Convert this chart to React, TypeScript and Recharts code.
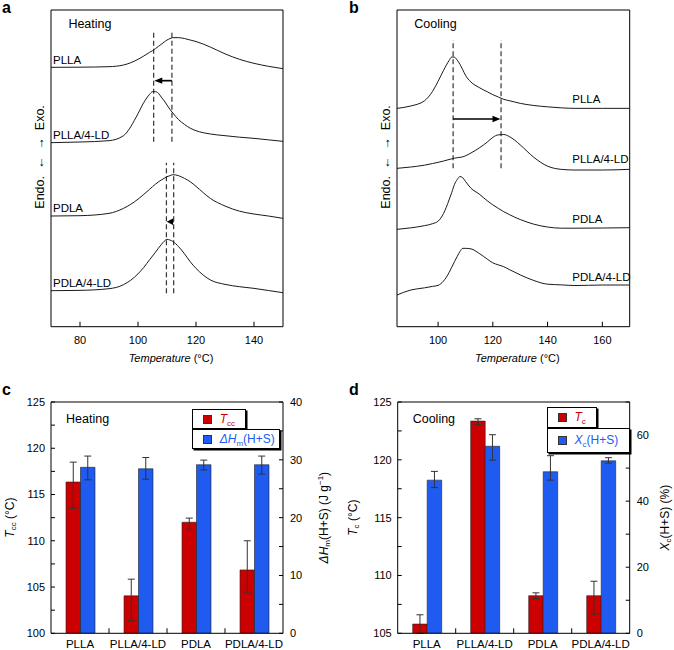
import React from 'react';
import {
  LineChart, Line, XAxis, YAxis, ReferenceLine, ReferenceDot,
  BarChart, Bar, ErrorBar, Legend,
} from 'recharts';

const FONT = '"Liberation Sans", Arial, Helvetica, sans-serif';
const RED = '#cc0000';
const BLUE = '#1f5bf0';
const INK = '#1a1a1a';

// ---- a: heating scans (heat flow in arbitrary units, traces offset) ----
const heatTemp = [70, 80, 90, 95, 100, 102, 104, 105, 106, 107, 108, 109, 110, 111, 112, 114, 116, 118, 120, 125, 130, 135, 140, 145, 150];
const heatPLLA = [77.8, 77.85, 78, 78.5, 80.2, 81.2, 82.3, 82.8, 83.4, 84.05, 84.7, 85.35, 86, 86.4, 86.7, 86.7, 86.45, 86.0, 85.55, 83.85, 81.85, 80.2, 79.0, 78.1, 77.4];
const heatPLLA4LD = [55.2, 55.4, 55.8, 57.3, 63.9, 67.25, 69.7, 70.5, 70.5, 70.05, 68.9, 67.8, 66.5, 65.2, 64.1, 62.1, 60.7, 59.55, 58.8, 57.8, 57.3, 56.85, 56.5, 56.05, 55.6];
const heatPDLA = [33.2, 33.3, 34.0, 35.5, 38.25, 39.7, 41.2, 42.0, 42.75, 43.4, 44.0, 44.5, 45.0, 45.3, 45.6, 45.3, 44.5, 43.5, 42.1, 38.45, 36.2, 34.65, 33.8, 33.2, 32.5];
const heatPDLA4LD = [10.8, 10.9, 11.4, 12.6, 15.85, 17.8, 20.1, 21.2, 22.3, 23.5, 24.6, 25.6, 26.2, 26.0, 25.6, 24.0, 21.9, 19.5, 17.5, 14.0, 12.7, 12.0, 11.5, 10.85, 10.2];

// ---- b: cooling scans ----
const coolTemp = [85, 90, 95, 98, 100, 102, 104, 105, 106, 107, 108, 109, 110, 112, 115, 118, 120, 122, 124, 126, 128, 130, 135, 140, 145, 150, 160, 170];
const coolPLLA = [65.5, 66.2, 67.75, 70.6, 73.6, 76.9, 79.8, 80.9, 80.85, 79.95, 78.7, 77.1, 75.45, 73.4, 71.75, 70.45, 69.6, 68.9, 68.2, 67.8, 67.4, 67.0, 66.35, 65.95, 65.65, 65.5, 65.5, 65.5];
const coolPLLA4LD = [47.5, 47.9, 48.45, 48.95, 49.3, 49.7, 50.15, 50.35, 50.55, 50.7, 50.8, 50.95, 51.25, 52.1, 53.6, 55.4, 56.8, 57.55, 57.65, 57.05, 55.95, 54.55, 50.8, 48.15, 47.2, 47, 47, 47.2];
const coolPDLA = [29.2, 29.65, 30.3, 30.9, 31.65, 33.95, 38, 40.25, 42.7, 44.15, 45.05, 44.7, 43.6, 41.55, 39.8, 37.75, 36.55, 35.5, 34.5, 33.65, 32.85, 32.15, 30.75, 29.9, 29.55, 29.55, 29.6, 29.7];
const coolPDLA4LD = [9.5, 11.0, 11.65, 12.1, 12.4, 13.7, 16.2, 17.85, 19.5, 21.1, 22.55, 23.5, 23.5, 23.35, 22.0, 20.25, 19.15, 18.55, 18.0, 17.15, 16.35, 15.55, 13.85, 12.75, 12.55, 12.35, 12.5, 12.5];

const traceNames = ['PLLA', 'PLLA/4-LD', 'PDLA', 'PDLA/4-LD'];

// peak markers (dashed) and shift arrows
const heatMarkers = [
  { t: 105.4, from: 55.5, to: 88.5 },
  { t: 111.7, from: 55.5, to: 88.5 },
  { t: 109.8, from: 10, to: 49.2 },
  { t: 112.3, from: 10, to: 49.2 },
];
const heatShifts = [
  { from: 111.7, to: 105.6, level: 73.8 },
  { from: 112.3, to: 109.9, level: 31.5 },
];
const coolMarkers = [
  { t: 105.5, from: 47.5, to: 86 },
  { t: 123, from: 47.5, to: 86 },
];
const coolShifts = [{ from: 105.5, to: 122.8, level: 62.3 }];

// curve labels (left edge temperature, level)
const heatLabelT = [70, 70, 70, 70];
const heatLabelY = [80, 57.5, 35.5, 13.2];
const coolLabelT = [148.3, 148.3, 148.3, 148.3];
const coolLabelY = [68.3, 50.2, 32.2, 15];

// ---- c / d: bar data ----
const samples = ['PLLA', 'PLLA/4-LD', 'PDLA', 'PDLA/4-LD'];
const tccHeat = [116.35, 104.05, 112.0, 106.85];
const tccHeatErr = [[2.85, 2.15], [2.7, 1.8], [0.75, 0.45], [2.4, 3.15]];
const dHmHeat = [28.7, 28.45, 29.15, 29.15];
const dHmHeatErr = [[2.15, 1.95], [1.8, 1.95], [0.9, 0.8], [1.6, 1.5]];
const tcCool = [105.8, 123.35, 108.25, 108.25];
const tcCoolErr = [[0.8, 0.8], [0.3, 0.2], [0.25, 0.25], [1.6, 1.25]];
const xcCool = [46.35, 56.6, 48.9, 52.2];
const xcCoolErr = [[2.25, 2.65], [4.2, 3.5], [2.55, 4.85], [0.7, 0.95]];

const heatRows = heatTemp.map((t, i) => ({
  t, PLLA: heatPLLA[i], 'PLLA/4-LD': heatPLLA4LD[i], PDLA: heatPDLA[i], 'PDLA/4-LD': heatPDLA4LD[i],
}));
const coolRows = coolTemp.map((t, i) => ({
  t, PLLA: coolPLLA[i], 'PLLA/4-LD': coolPLLA4LD[i], PDLA: coolPDLA[i], 'PDLA/4-LD': coolPDLA4LD[i],
}));
const heatBarRows = samples.map((name, i) => ({
  name, tcc: tccHeat[i], tccErr: tccHeatErr[i], dhm: dHmHeat[i], dhmErr: dHmHeatErr[i],
}));
const coolBarRows = samples.map((name, i) => ({
  name, tc: tcCool[i], tcErr: tcCoolErr[i], xc: xcCool[i], xcErr: xcCoolErr[i],
}));

const range = (a: number, b: number, step: number) => {
  const out: number[] = [];
  for (let v = a; v <= b + 1e-9; v += step) out.push(v);
  return out;
};

const tickStyle = { fontSize: 11, fill: '#000' };

// rotated axis title, placed relative to the axis box
const sideLabel = (dx: number, dy: number, body: React.ReactNode, size = 12) => (props: any) => {
  const vb = props.viewBox || {};
  const cx = vb.x + dx;
  const cy = vb.y + vb.height / 2 + dy;
  return (
    <text x={cx} y={cy} transform={`rotate(-90 ${cx} ${cy})`} textAnchor="middle"
      dominantBaseline="central" fontSize={size} fill="#000" style={{ whiteSpace: 'pre' }}>
      {body}
    </text>
  );
};

const tempLabel = (props: any) => {
  const vb = props.viewBox || {};
  return (
    <text x={vb.x + vb.width / 2 + 4} y={vb.y + 35} textAnchor="middle" fontSize={11} fill="#000">
      <tspan fontStyle="italic">Temperature</tspan> (°C)
    </text>
  );
};

const cornerText = (text: string) => (props: any) => {
  const vb = props.viewBox || {};
  return (
    <text x={vb.x + 15} y={vb.y + 21} fontSize={12.5} fill="#000">{text}</text>
  );
};

const ArrowShape = (p: any) => {
  const { x1, y1, x2, y2 } = p;
  const a = Math.atan2(y2 - y1, x2 - x1);
  const total = Math.hypot(x2 - x1, y2 - y1);
  const len = Math.min(8, total * 0.9);
  const half = 3.2;
  const bx = x2 - len * Math.cos(a);
  const by = y2 - len * Math.sin(a);
  const nx = -Math.sin(a) * half;
  const ny = Math.cos(a) * half;
  return (
    <g>
      {total > len && <line x1={x1} y1={y1} x2={bx + Math.cos(a)} y2={by + Math.sin(a)} stroke="#000" strokeWidth={1.7} />}
      <polygon points={`${x2},${y2} ${bx + nx},${by + ny} ${bx - nx},${by - ny}`} fill="#000" />
    </g>
  );
};

// category tick: label at band centre, short inward tick at the band's left edge
const CatTick = (p: any) => {
  const { x, y, payload, index } = p;
  const half = payload && payload.offset ? payload.offset : 0;
  const axisY = y - 7;
  const edge = x - half;
  return (
    <g>
      {index > 0 && half > 0 && <line x1={edge} x2={edge} y1={axisY} y2={axisY - 5} stroke="#000" />}
      <text x={x} y={y} dy="0.71em" textAnchor="middle" fontSize={11.5} fill="#000">{payload.value}</text>
    </g>
  );
};

const Sub: React.FC<{ children: React.ReactNode }> = ({ children }) => (
  <span style={{ fontSize: 8, position: 'relative', top: 3 }}>{children}</span>
);

const LegendBox: React.FC<{ top: number; w: number; h: number; color: string; children: React.ReactNode }> = ({ top, w, h, color, children }) => (
  <div style={{
    position: 'absolute', left: 0, top, width: w, height: h, boxSizing: 'border-box',
    border: '1px solid #000', boxShadow: '1.5px 1.5px 0 #000', background: '#fff',
  }}>
    <div style={{ position: 'absolute', left: 10, top: (h - 2 - 9) / 2, width: 9, height: 9, background: color, border: '0.5px solid #333', boxSizing: 'border-box' }} />
    <div style={{ position: 'absolute', left: 27, top: (h - 2 - 13) / 2, fontSize: 12, lineHeight: '13px', color, whiteSpace: 'nowrap' }}>
      {children}
    </div>
  </div>
);

const HeatLegend = () => (
  <div style={{ position: 'relative', width: 92, height: 44 }}>
    <LegendBox top={0} w={54} h={20} color={RED}><i>T</i><Sub>cc</Sub></LegendBox>
    <LegendBox top={20} w={88} h={20} color={BLUE}><i>ΔH</i><Sub>m</Sub>(H+S)</LegendBox>
  </div>
);

const CoolLegend = () => (
  <div style={{ position: 'relative', width: 86, height: 50 }}>
    <LegendBox top={0} w={50} h={21} color={RED}><i>T</i><Sub>c</Sub></LegendBox>
    <LegendBox top={21} w={83} h={25} color={BLUE}><i>X</i><Sub>c</Sub>(H+S)</LegendBox>
  </div>
);

const traceLabel = (text: string) => ({ value: text, position: 'right' as const, offset: 2, fontSize: 11.5, fill: '#000' });

const DscPanel: React.FC<{
  rows: any[]; domain: [number, number]; ticks: number[]; leftW: number; rightW: number;
  markers: typeof heatMarkers; shifts: typeof heatShifts; labelT: number[]; labelY: number[];
  title: string; titleT: number; titleLabelDx: number;
}> = ({ rows, domain, ticks, leftW, rightW, markers, shifts, labelT, labelY, title, titleT, titleLabelDx }) => (
  <LineChart width={337} height={375} data={rows} margin={{ top: 9, right: rightW, bottom: 0, left: 0 }}>
    <XAxis dataKey="t" type="number" domain={domain} ticks={ticks} allowDataOverflow
      tickSize={-5} tickMargin={14} height={48.3} axisLine={{ stroke: '#000' }} tickLine={{ stroke: '#000' }}
      tick={tickStyle} label={tempLabel} />
    <XAxis xAxisId="top" orientation="top" dataKey="t" type="number" domain={domain} ticks={ticks} allowDataOverflow
      tick={false} tickSize={-5} height={1} axisLine={{ stroke: '#000' }} tickLine={{ stroke: '#000' }} />
    <YAxis type="number" domain={[0, 95]} allowDataOverflow tick={false} tickLine={false} width={leftW}
      axisLine={{ stroke: '#000' }} label={sideLabel(titleLabelDx, -11.4, 'Endo.  ←  →  Exo.', 12.5)} />
    <ReferenceLine x={domain[1]} stroke="#000" />
    {markers.map((m, i) => (
      <ReferenceLine key={`m${i}`} segment={[{ x: m.t, y: m.from }, { x: m.t, y: m.to }]}
        stroke="#333" strokeWidth={1.2} strokeDasharray="5 3" />
    ))}
    {shifts.map((s, i) => (
      <ReferenceLine key={`s${i}`} segment={[{ x: s.from, y: s.level }, { x: s.to, y: s.level }]} shape={ArrowShape} />
    ))}
    {traceNames.map((name) => (
      <Line key={name} dataKey={name} type="monotone" stroke={INK} strokeWidth={1} dot={false} isAnimationActive={false} />
    ))}
    {traceNames.map((name, i) => (
      <ReferenceDot key={`l${i}`} x={labelT[i]} y={labelY[i]} r={0} fill="none" stroke="none" label={traceLabel(name)} />
    ))}
    <ReferenceDot x={titleT} y={90.8} r={0} fill="none" stroke="none"
      label={{ value: title, position: 'right', offset: 0, fontSize: 12.5, fill: '#000' }} />
  </LineChart>
);

const barLabel = {
  tcc: <><tspan fontStyle="italic">T</tspan><tspan fontSize={8} dy={3}>cc</tspan><tspan dy={-3}> (°C)</tspan></>,
  dhm: <><tspan fontStyle="italic">ΔH</tspan><tspan fontSize={8} dy={3}>m</tspan><tspan dy={-3}>(H+S) (J g</tspan><tspan fontSize={8} dy={-4}>−1</tspan><tspan dy={4}>)</tspan></>,
  tc: <><tspan fontStyle="italic">T</tspan><tspan fontSize={8} dy={3}>c</tspan><tspan dy={-3}> (°C)</tspan></>,
  xc: <><tspan fontStyle="italic">X</tspan><tspan fontSize={8} dy={3}>c</tspan><tspan dy={-3}>(H+S) (%)</tspan></>,
};

const errProps = { width: 3.5, stroke: '#333', strokeWidth: 1, direction: 'y' as const };

export default function App() {
  return (
    <div style={{ position: 'absolute', left: 0, top: 0, width: 674, height: 650, background: '#fff', fontFamily: FONT, overflow: 'hidden' }}>
      <div style={{ position: 'absolute', left: 0, top: 0 }}>
        <DscPanel rows={heatRows} domain={[70, 150]} ticks={[80, 100, 120, 140]} leftW={51} rightW={54}
          markers={heatMarkers} shifts={heatShifts} labelT={heatLabelT} labelY={heatLabelY}
          title="Heating" titleT={76} titleLabelDx={40} />
      </div>
      <div style={{ position: 'absolute', left: 337, top: 0 }}>
        <DscPanel rows={coolRows} domain={[85, 170]} ticks={[100, 120, 140, 160]} leftW={60} rightW={44.3}
          markers={coolMarkers} shifts={coolShifts} labelT={coolLabelT} labelY={coolLabelY}
          title="Cooling" titleT={91.3} titleLabelDx={49} />
      </div>

      <div style={{ position: 'absolute', left: 0, top: 380 }}>
        <BarChart width={337} height={270} data={heatBarRows} margin={{ top: 22, right: 0, bottom: 0, left: 0 }} barGap={0} barSize={14.5}>
          <XAxis dataKey="name" tick={(p: any) => <CatTick {...p} />} tickLine={false} axisLine={{ stroke: '#000' }}
            height={16.7} interval={0} tickSize={6} tickMargin={1} />
          <YAxis yAxisId="l" type="number" domain={[100, 125]} allowDataOverflow ticks={range(100, 125, 2.5)} interval={0}
            tickFormatter={(v: number) => (v % 5 === 0 ? String(v) : '')} tick={tickStyle}
            tickSize={-4} tickMargin={10} width={51} axisLine={{ stroke: '#000' }} tickLine={{ stroke: '#000' }}
            label={sideLabel(10, 0, barLabel.tcc)} />
          <YAxis yAxisId="r" orientation="right" type="number" domain={[0, 40]} allowDataOverflow ticks={range(0, 40, 5)} interval={0}
            tickFormatter={(v: number) => (v % 10 === 0 ? String(v) : '')} tick={tickStyle}
            tickSize={-4} tickMargin={11} width={54} axisLine={{ stroke: '#000' }} tickLine={{ stroke: '#000' }}
            label={sideLabel(41, 0, barLabel.dhm)} />
          <ReferenceLine yAxisId="l" y={125} stroke="#000" label={cornerText('Heating')} />
          <Bar yAxisId="l" dataKey="tcc" fill={RED} stroke="#222" strokeWidth={0.6} isAnimationActive={false}>
            <ErrorBar dataKey="tccErr" {...errProps} />
          </Bar>
          <Bar yAxisId="r" dataKey="dhm" fill={BLUE} stroke="#222" strokeWidth={0.6} isAnimationActive={false}>
            <ErrorBar dataKey="dhmErr" {...errProps} />
          </Bar>
          <Legend content={HeatLegend} layout="horizontal" verticalAlign="middle" align="center"
            wrapperStyle={{ left: 191.7, top: 29, width: 92, height: 44 }} />
        </BarChart>
      </div>

      <div style={{ position: 'absolute', left: 337, top: 380 }}>
        <BarChart width={337} height={270} data={coolBarRows} margin={{ top: 22, right: 0, bottom: 0, left: 0 }} barGap={0} barSize={14.5}>
          <XAxis dataKey="name" tick={(p: any) => <CatTick {...p} />} tickLine={false} axisLine={{ stroke: '#000' }}
            height={16.7} interval={0} tickSize={6} tickMargin={1} />
          <YAxis yAxisId="l" type="number" domain={[105, 125]} allowDataOverflow ticks={range(105, 125, 2.5)} interval={0}
            tickFormatter={(v: number) => (v % 5 === 0 ? String(v) : '')} tick={tickStyle}
            tickSize={-4} tickMargin={10} width={60.7} axisLine={{ stroke: '#000' }} tickLine={{ stroke: '#000' }}
            label={sideLabel(16, 0, barLabel.tc)} />
          <YAxis yAxisId="r" orientation="right" type="number" domain={[0, 70]} allowDataOverflow ticks={range(0, 70, 10)} interval={0}
            tickFormatter={(v: number) => (v % 20 === 0 ? String(v) : '')} tick={tickStyle}
            tickSize={-4} tickMargin={11} width={44.3} axisLine={{ stroke: '#000' }} tickLine={{ stroke: '#000' }}
            label={sideLabel(35.3, 0, barLabel.xc)} />
          <ReferenceLine yAxisId="l" y={125} stroke="#000" label={cornerText('Cooling')} />
          <Bar yAxisId="l" dataKey="tc" fill={RED} stroke="#222" strokeWidth={0.6} isAnimationActive={false}>
            <ErrorBar dataKey="tcErr" {...errProps} />
          </Bar>
          <Bar yAxisId="r" dataKey="xc" fill={BLUE} stroke="#222" strokeWidth={0.6} isAnimationActive={false}>
            <ErrorBar dataKey="xcErr" {...errProps} />
          </Bar>
          <Legend content={CoolLegend} layout="horizontal" verticalAlign="middle" align="center"
            wrapperStyle={{ left: 209.5, top: 27, width: 86, height: 50 }} />
        </BarChart>
      </div>

      <div style={{ position: 'absolute', left: 2, top: -0.5, fontSize: 16, fontWeight: 'bold', lineHeight: 1 }}>a</div>
      <div style={{ position: 'absolute', left: 349, top: -0.5, fontSize: 16, fontWeight: 'bold', lineHeight: 1 }}>b</div>
      <div style={{ position: 'absolute', left: 2, top: 381.5, fontSize: 16, fontWeight: 'bold', lineHeight: 1 }}>c</div>
      <div style={{ position: 'absolute', left: 349, top: 381.5, fontSize: 16, fontWeight: 'bold', lineHeight: 1 }}>d</div>
    </div>
  );
}
